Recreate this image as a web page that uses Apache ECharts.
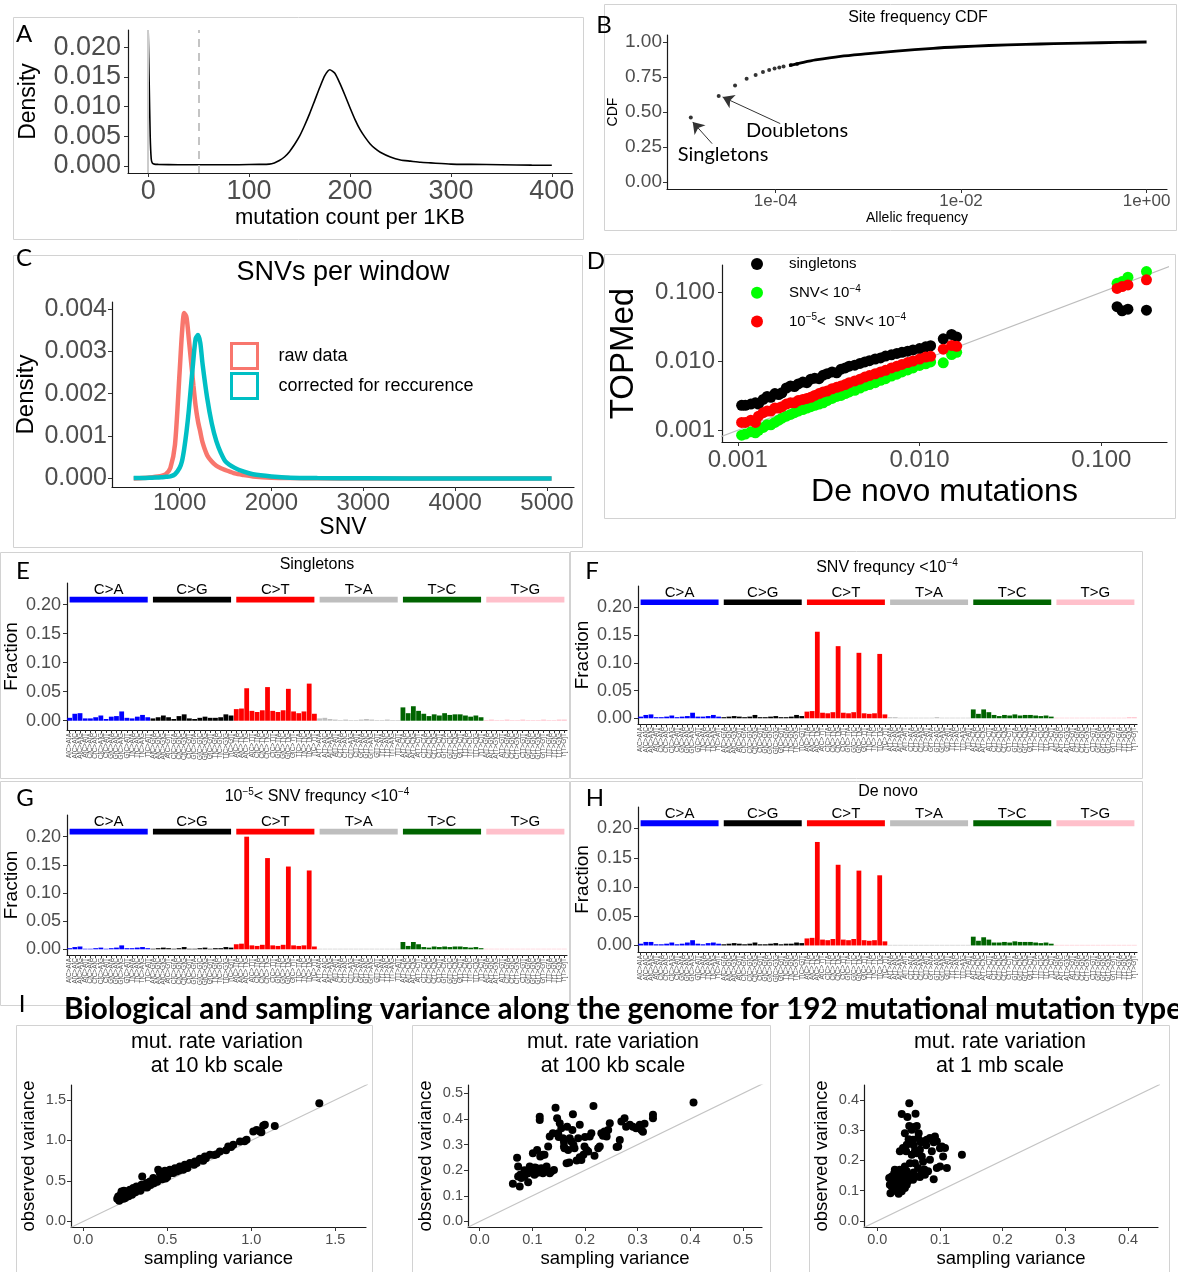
<!DOCTYPE html>
<html>
<head>
<meta charset="utf-8">
<script src="https://cdn.jsdelivr.net/npm/echarts@6/dist/echarts.min.js"></script>
<style>
  html, body { margin: 0; padding: 0; background: #fff; }
  #main { width: 1178px; height: 1272px; }
</style>
</head>
<body>
<div id="main"></div>
<script>
var FONT = "'Liberation Sans', Arial, sans-serif";
var CAL = "Lato, 'Open Sans', sans-serif";

// ---------- A: mutation count per 1KB ----------
var countX = [0, 1, 2, 3, 4, 6, 10, 30, 60, 90, 110, 120, 125, 130, 135, 140, 145, 150, 155, 160, 165, 170, 175, 180,
  185, 190, 195, 200, 205, 210, 215, 220, 225, 230, 240, 250, 260, 270, 280, 300, 320, 350, 380, 400];
var countDensity = [0.0228, 0.014, 0.005, 0.0012, 0.0005, 0.0003, 0.00025, 0.0002, 0.0002, 0.0002, 0.00025, 0.0003,
  0.0005, 0.0009, 0.0015, 0.0024, 0.0036, 0.005, 0.0068, 0.0088, 0.011, 0.0132, 0.0152, 0.0162,
  0.0156, 0.0139, 0.0119, 0.0098, 0.0078, 0.0061, 0.0048, 0.0037, 0.0029, 0.0023, 0.0015, 0.001, 0.0008, 0.0006,
  0.0005, 0.0003, 0.00025, 0.0002, 0.00012, 0.0001];

// ---------- B: site frequency CDF ----------
var sfsFreq = [1.22e-5, 2.44e-5, 3.66e-5, 4.88e-5, 6.1e-5, 7.32e-5, 8.54e-5, 9.76e-5, 1.098e-4, 1.22e-4, 1.464e-4, 1.708e-4];
var sfsCdf = [0.46, 0.614, 0.69, 0.738, 0.765, 0.785, 0.8, 0.81, 0.818, 0.825, 0.835, 0.843];
var cdfFreq = [1.4e-4, 2e-4, 2.7e-4, 5e-4, 1e-3, 2e-3, 5e-3, 1e-2, 2e-2, 5e-2, 0.1, 0.2, 0.5, 1];
var cdfValue = [0.832, 0.855, 0.872, 0.898, 0.917, 0.935, 0.955, 0.966, 0.975, 0.983, 0.988, 0.992, 0.997, 1.0];

// ---------- C: SNVs per window ----------
var snvX = [500, 600, 700, 800, 850, 900, 950, 1000, 1025, 1050, 1075, 1100, 1150, 1175, 1200, 1225, 1250,
  1300, 1350, 1400, 1450, 1500, 1600, 1700, 1800, 2000, 2200, 2500, 3000, 4000, 5050];
var snvRaw = [0, 0.00001, 0.00003, 0.00006, 0.0001, 0.00025, 0.0008, 0.0025, 0.0034, 0.0039, 0.0038, 0.0033,
  0.0022, 0.0017, 0.00135, 0.0011, 0.00085, 0.00055, 0.0004, 0.0003, 0.00024, 0.0002, 0.00012, 0.00008,
  0.00005, 0.00002, 0.00001, 0.000005, 0, 0, 0];
var snvCorrected = [0.00001, 0.00001, 0.00002, 0.00003, 0.00004, 0.00005, 0.0001, 0.00025, 0.0004, 0.0007, 0.0011,
  0.0016, 0.0028, 0.0033, 0.00338, 0.0032, 0.0027, 0.0019, 0.0013, 0.00088, 0.0006, 0.0004, 0.00025, 0.00016,
  0.0001, 0.00005, 0.00002, 0.00001, 0.000005, 0, 0];

// ---------- D: TOPMed vs de novo ----------
var dnX = [0.00105, 0.0011, 0.00118, 0.00125, 0.0013, 0.00138, 0.00145, 0.00152, 0.0016, 0.00168, 0.00175, 0.00185,
  0.00195, 0.00205, 0.00215, 0.00228, 0.0024, 0.00252, 0.00265, 0.0028, 0.00295, 0.0031, 0.0033, 0.0035, 0.0037,
  0.0039, 0.0041, 0.0044, 0.0047, 0.005, 0.0053, 0.0057, 0.0061, 0.0065, 0.007, 0.0075, 0.008, 0.0086, 0.0092,
  0.01, 0.0108, 0.0115, 0.0135, 0.015, 0.016, 0.122, 0.13, 0.14, 0.177];
var topSingletons = [0.0023, 0.0023, 0.0024, 0.0025, 0.0024, 0.0028, 0.0031, 0.003, 0.0034, 0.0033, 0.0035, 0.0041,
  0.0044, 0.0043, 0.0047, 0.005, 0.0049, 0.0055, 0.0057, 0.0056, 0.0063, 0.0066, 0.007, 0.0068, 0.0077, 0.008,
  0.0085, 0.0088, 0.0093, 0.0098, 0.0102, 0.0108, 0.0112, 0.0119, 0.0124, 0.013, 0.0135, 0.014, 0.0146, 0.0153,
  0.0162, 0.0168, 0.0212, 0.0245, 0.0226, 0.062, 0.054, 0.057, 0.055];
var topRare = [0.00085, 0.00088, 0.00095, 0.00092, 0.001, 0.0011, 0.0012, 0.0012, 0.0013, 0.0014, 0.0015, 0.0016,
  0.0017, 0.0018, 0.0019, 0.002, 0.0021, 0.0022, 0.0023, 0.0024, 0.0025, 0.0027, 0.0029, 0.0031, 0.0032, 0.0034,
  0.0036, 0.0038, 0.0041, 0.0044, 0.0046, 0.0049, 0.0053, 0.0056, 0.0061, 0.0065, 0.007, 0.0075, 0.008, 0.0087,
  0.0092, 0.0098, 0.0095, 0.0125, 0.0135, 0.135, 0.143, 0.166, 0.2];
var topMid = [0.0013, 0.0013, 0.0014, 0.0013, 0.0016, 0.0018, 0.0019, 0.0019, 0.0021, 0.0021, 0.0022, 0.0024,
  0.0025, 0.0025, 0.0027, 0.0028, 0.0029, 0.003, 0.0032, 0.0034, 0.0036, 0.0037, 0.004, 0.0042, 0.0044, 0.0046,
  0.0049, 0.0052, 0.0055, 0.0059, 0.0062, 0.0066, 0.007, 0.0074, 0.008, 0.0085, 0.009, 0.0096, 0.0101, 0.0108,
  0.0115, 0.0118, 0.015, 0.017, 0.0165, 0.114, 0.121, 0.128, 0.152];

// ---------- E-H: mutation spectra (96 trinucleotide contexts) ----------
var mutTypes = ['C>A', 'C>G', 'C>T', 'T>A', 'T>C', 'T>G'];
var mutColors = ['#0000ff', '#000000', '#ff0000', '#bebebe', '#006400', '#ffc0cb'];
var bases = ['A', 'C', 'G', 'T'];
var specSingletons = [
  0.005, 0.012, 0.013, 0.004, 0.004, 0.006, 0.009, 0.003, 0.007, 0.008, 0.016, 0.005, 0.004, 0.007, 0.010, 0.006,
  0.004, 0.006, 0.009, 0.006, 0.003, 0.008, 0.011, 0.004, 0.003, 0.005, 0.007, 0.005, 0.005, 0.006, 0.011, 0.009,
  0.020, 0.021, 0.056, 0.017, 0.015, 0.018, 0.058, 0.017, 0.015, 0.018, 0.055, 0.016, 0.013, 0.016, 0.064, 0.012,
  0.004, 0.005, 0.003, 0.002, 0.001, 0.002, 0.001, 0.001, 0.002, 0.003, 0.002, 0.001, 0.001, 0.002, 0.001, 0.001,
  0.023, 0.013, 0.025, 0.017, 0.012, 0.008, 0.011, 0.009, 0.013, 0.010, 0.011, 0.011, 0.009, 0.007, 0.009, 0.006,
  0.001, 0.002, 0.001, 0.001, 0.002, 0.001, 0.001, 0.002, 0.001, 0.001, 0.001, 0.002, 0.001, 0.001, 0.002, 0.002];
var specRare = [
  0.003, 0.006, 0.007, 0.002, 0.002, 0.003, 0.005, 0.002, 0.003, 0.004, 0.010, 0.003, 0.003, 0.004, 0.006, 0.003,
  0.002, 0.003, 0.004, 0.003, 0.002, 0.003, 0.006, 0.002, 0.002, 0.003, 0.004, 0.002, 0.002, 0.003, 0.006, 0.004,
  0.012, 0.013, 0.156, 0.010, 0.009, 0.011, 0.130, 0.010, 0.009, 0.011, 0.118, 0.009, 0.008, 0.009, 0.116, 0.007,
  0.002, 0.002, 0.001, 0.001, 0.001, 0.001, 0.001, 0.001, 0.001, 0.002, 0.001, 0.001, 0.001, 0.001, 0.001, 0.001,
  0.016, 0.008, 0.016, 0.011, 0.006, 0.004, 0.006, 0.005, 0.007, 0.005, 0.006, 0.006, 0.005, 0.004, 0.005, 0.003,
  0.001, 0.001, 0.001, 0.001, 0.001, 0.001, 0.001, 0.001, 0.001, 0.001, 0.001, 0.001, 0.001, 0.001, 0.002, 0.002];
var specMid = [
  0.002, 0.004, 0.005, 0.001, 0.001, 0.002, 0.003, 0.001, 0.002, 0.003, 0.007, 0.002, 0.002, 0.003, 0.004, 0.002,
  0.001, 0.002, 0.003, 0.002, 0.001, 0.002, 0.004, 0.001, 0.001, 0.002, 0.003, 0.001, 0.002, 0.002, 0.004, 0.003,
  0.009, 0.010, 0.200, 0.007, 0.006, 0.008, 0.162, 0.007, 0.006, 0.008, 0.147, 0.007, 0.006, 0.007, 0.140, 0.005,
  0.001, 0.001, 0.001, 0.001, 0.001, 0.001, 0.001, 0.001, 0.001, 0.001, 0.001, 0.001, 0.001, 0.001, 0.001, 0.001,
  0.013, 0.006, 0.013, 0.009, 0.004, 0.003, 0.005, 0.004, 0.005, 0.004, 0.005, 0.005, 0.004, 0.003, 0.004, 0.002,
  0.001, 0.001, 0.001, 0.001, 0.001, 0.001, 0.001, 0.001, 0.001, 0.001, 0.001, 0.001, 0.001, 0.001, 0.001, 0.001];
var specDeNovo = [
  0.003, 0.006, 0.006, 0.002, 0.002, 0.003, 0.005, 0.002, 0.003, 0.005, 0.009, 0.003, 0.002, 0.004, 0.005, 0.003,
  0.002, 0.003, 0.004, 0.003, 0.002, 0.003, 0.005, 0.002, 0.002, 0.003, 0.004, 0.002, 0.003, 0.003, 0.005, 0.004,
  0.012, 0.013, 0.177, 0.010, 0.009, 0.011, 0.138, 0.010, 0.009, 0.011, 0.128, 0.009, 0.008, 0.009, 0.120, 0.007,
  0.001, 0.001, 0.001, 0.001, 0.001, 0.001, 0.001, 0.001, 0.001, 0.001, 0.001, 0.001, 0.001, 0.001, 0.001, 0.001,
  0.015, 0.008, 0.014, 0.010, 0.005, 0.005, 0.006, 0.005, 0.007, 0.006, 0.006, 0.006, 0.005, 0.004, 0.005, 0.003,
  0.001, 0.001, 0.001, 0.001, 0.001, 0.001, 0.001, 0.001, 0.001, 0.001, 0.001, 0.001, 0.001, 0.001, 0.001, 0.001];

// ---------- I: observed vs sampling variance ----------
var var10kb = [[1.405, 1.46], [1.071, 1.181], [1.081, 1.193], [1.032, 1.13], [1.012, 1.11], [1.052, 1.11],
  [0.972, 1.008], [0.933, 0.988], [0.893, 0.947], [0.863, 0.926], [0.813, 0.864], [0.794, 0.831], [0.754, 0.823],
  [0.724, 0.802], [0.714, 0.749], [0.694, 0.774], [0.675, 0.72], [0.665, 0.741], [0.635, 0.72], [0.615, 0.687],
  [0.605, 0.7], [0.595, 0.638], [0.585, 0.658], [0.575, 0.679], [0.556, 0.617], [0.546, 0.658], [0.536, 0.597],
  [0.516, 0.638], [0.516, 0.597], [0.496, 0.576], [0.486, 0.626], [0.476, 0.584], [0.466, 0.556], [0.456, 0.597],
  [0.446, 0.638], [0.437, 0.514], [0.427, 0.494], [0.417, 0.535], [0.407, 0.473], [0.397, 0.494], [0.387, 0.453],
  [0.377, 0.473], [0.357, 0.42], [0.351, 0.556], [0.347, 0.453], [0.327, 0.391], [0.317, 0.432], [0.308, 0.37],
  [0.298, 0.412], [0.288, 0.35], [0.278, 0.391], [0.268, 0.329], [0.258, 0.37], [0.248, 0.309], [0.242, 0.379],
  [0.238, 0.35], [0.228, 0.288], [0.228, 0.37], [0.222, 0.329], [0.214, 0.255], [0.208, 0.309], [0.202, 0.28],
  [0.33, 0.4], [0.36, 0.43], [0.42, 0.47], [0.5, 0.55], [0.53, 0.6], [0.57, 0.63], [0.62, 0.66], [0.66, 0.7],
  [0.73, 0.78], [0.78, 0.82], [0.85, 0.88], [0.88, 0.92], [0.96, 0.99], [1.06, 1.1], [1.14, 1.18], [0.25, 0.29],
  [0.27, 0.31], [0.29, 0.33], [0.31, 0.36], [0.34, 0.38], [0.38, 0.42], [0.4, 0.45], [0.44, 0.49], [0.47, 0.52],
  [0.49, 0.53], [0.22, 0.27], [0.24, 0.28]];
var var100kb = [[0.063, 0.147], [0.076, 0.136], [0.071, 0.249], [0.073, 0.214], [0.077, 0.182], [0.085, 0.175],
  [0.092, 0.153], [0.095, 0.214], [0.098, 0.195], [0.101, 0.266], [0.104, 0.182], [0.108, 0.208], [0.109, 0.279],
  [0.114, 0.409], [0.114, 0.396], [0.115, 0.253], [0.117, 0.208], [0.12, 0.188], [0.123, 0.26], [0.127, 0.214],
  [0.13, 0.292], [0.133, 0.331], [0.136, 0.195], [0.139, 0.344], [0.141, 0.201], [0.144, 0.444], [0.147, 0.403],
  [0.149, 0.344], [0.152, 0.383], [0.155, 0.364], [0.158, 0.325], [0.16, 0.292], [0.161, 0.286], [0.165, 0.227],
  [0.166, 0.37], [0.168, 0.279], [0.171, 0.325], [0.174, 0.312], [0.176, 0.357], [0.177, 0.418], [0.178, 0.299],
  [0.18, 0.286], [0.184, 0.238], [0.187, 0.325], [0.19, 0.377], [0.193, 0.24], [0.197, 0.26], [0.199, 0.292],
  [0.203, 0.279], [0.206, 0.273], [0.209, 0.331], [0.212, 0.344], [0.216, 0.451], [0.218, 0.256], [0.225, 0.286],
  [0.228, 0.292], [0.231, 0.344], [0.234, 0.334], [0.237, 0.351], [0.241, 0.331], [0.244, 0.357], [0.247, 0.383],
  [0.263, 0.292], [0.266, 0.318], [0.269, 0.39], [0.275, 0.403], [0.278, 0.37], [0.285, 0.377], [0.291, 0.37],
  [0.297, 0.364], [0.304, 0.377], [0.307, 0.357], [0.313, 0.381], [0.329, 0.416], [0.329, 0.403], [0.406, 0.464],
  [0.073, 0.175], [0.079, 0.169], [0.092, 0.188], [0.12, 0.26], [0.133, 0.188], [0.1, 0.2], [0.11, 0.19],
  [0.125, 0.2], [0.16, 0.31], [0.17, 0.23], [0.15, 0.33], [0.19, 0.25], [0.24, 0.34], [0.26, 0.29], [0.31, 0.35],
  [0.2, 0.33], [0.085, 0.2], [0.105, 0.21]];
var var1mb = [[0.051, 0.389], [0.039, 0.353], [0.048, 0.343], [0.061, 0.354], [0.051, 0.314], [0.063, 0.314],
  [0.055, 0.301], [0.044, 0.29], [0.041, 0.241], [0.036, 0.23], [0.047, 0.252], [0.057, 0.268], [0.065, 0.274],
  [0.073, 0.263], [0.079, 0.268], [0.084, 0.274], [0.092, 0.279], [0.095, 0.263], [0.103, 0.246], [0.108, 0.241],
  [0.105, 0.213], [0.111, 0.175], [0.1, 0.18], [0.095, 0.175], [0.09, 0.138], [0.135, 0.219], [0.068, 0.235],
  [0.071, 0.213], [0.063, 0.224], [0.055, 0.219], [0.06, 0.191], [0.065, 0.175], [0.071, 0.158], [0.076, 0.153],
  [0.081, 0.164], [0.063, 0.147], [0.057, 0.136], [0.052, 0.147], [0.047, 0.164], [0.044, 0.18], [0.039, 0.164],
  [0.021, 0.092], [0.023, 0.114], [0.026, 0.136], [0.027, 0.158], [0.03, 0.103], [0.031, 0.125], [0.034, 0.147],
  [0.035, 0.109], [0.037, 0.131], [0.04, 0.153], [0.041, 0.114], [0.044, 0.136], [0.028, 0.169], [0.036, 0.169],
  [0.023, 0.147], [0.031, 0.098], [0.026, 0.103], [0.047, 0.12], [0.02, 0.12], [0.019, 0.142], [0.039, 0.098],
  [0.044, 0.109], [0.049, 0.131], [0.034, 0.09], [0.073, 0.196], [0.084, 0.202], [0.087, 0.23], [0.052, 0.191],
  [0.058, 0.25], [0.066, 0.29], [0.059, 0.31], [0.069, 0.26], [0.078, 0.25], [0.09, 0.26], [0.1, 0.24],
  [0.06, 0.23], [0.05, 0.27], [0.046, 0.23], [0.075, 0.17], [0.068, 0.145], [0.058, 0.16], [0.029, 0.12],
  [0.033, 0.13], [0.025, 0.125], [0.038, 0.12], [0.042, 0.15]];

// ---------- building blocks ----------
var contexts = [];
mutTypes.forEach(function (m) {
  bases.forEach(function (l) {
    bases.forEach(function (r) { contexts.push(l + '[' + m + ']' + r); });
  });
});

function pairs(xs, ys) { return xs.map(function (x, i) { return [x, ys[i]]; }); }

var grids = [], xAxes = [], yAxes = [], series = [], graphics = [];

function makeAxis(p) {
  var ax = {
    type: p.type || 'value', min: p.min, max: p.max,
    name: p.name || '', nameLocation: 'middle', nameGap: p.nameGap,
    nameTextStyle: {color: '#000', fontSize: p.nameSize, fontFamily: FONT},
    axisLine: {show: true, onZero: false, lineStyle: {color: '#1a1a1a', width: 1.2}},
    axisTick: {show: true, length: 4, lineStyle: {color: '#333'}, customValues: p.ticks},
    axisLabel: {color: '#4d4d4d', fontSize: p.size, fontFamily: FONT, margin: p.margin,
      customValues: p.ticks, formatter: p.fmt || function (v) { return String(v); }},
    splitLine: {show: false}
  };
  if (p.type === 'log') ax.logBase = 10;
  return ax;
}

function addPanel(rect, xa, ya) {
  var i = grids.length;
  grids.push({left: rect[0], top: rect[1], width: rect[2], height: rect[3], containLabel: false, outerBoundsMode: 'none'});
  xa.gridIndex = i; ya.gridIndex = i;
  xAxes.push(xa); yAxes.push(ya);
  return i;
}

function txt(x, y, text, size, o) {
  o = o || {};
  graphics.push({
    type: 'text', x: x, y: y, silent: true, z: 100,
    style: {
      text: text, fill: '#000', fontSize: size, fontFamily: o.font || FONT, fontWeight: o.weight || 'normal',
      align: o.align || 'center', verticalAlign: 'middle', lineHeight: o.lineHeight, rich: o.rich
    }
  });
}

function box(x, y, w, h) {
  graphics.push({type: 'rect', silent: true, z: 1, shape: {x: x + 0.5, y: y + 0.5, width: w, height: h},
    style: {fill: 'none', stroke: '#d2d2d2', lineWidth: 1}});
}

var fix = function (d) { return function (v) { return v.toFixed(d); }; };
var SUP = {sup: {fontSize: 10, verticalAlign: 'top', fontFamily: FONT}};

// ---------- panel A ----------
var gA = addPanel([128, 30, 444, 143],
  makeAxis({min: -20, max: 420, ticks: [0, 100, 200, 300, 400], size: 27, margin: 5,
    name: 'mutation count per 1KB', nameSize: 22, nameGap: 34}),
  makeAxis({min: -0.0012, max: 0.0229, ticks: [0, 0.005, 0.01, 0.015, 0.02], fmt: fix(3), size: 27, margin: 7,
    name: 'Density', nameSize: 23, nameGap: 88}));
series.push({
  type: 'line', xAxisIndex: gA, yAxisIndex: gA, data: pairs(countX, countDensity), showSymbol: false,
  smooth: 0.2, lineStyle: {color: '#000', width: 1.6}, z: 3,
  markLine: {silent: true, symbol: 'none', label: {show: false}, data: [
    {xAxis: 0, lineStyle: {color: '#cccccc', width: 2, type: 'solid'}},
    {xAxis: 50, lineStyle: {color: '#c4c4c4', width: 2, type: [8, 6]}}
  ]}
});

// ---------- panel B ----------
var gB = addPanel([667, 35, 500, 154],
  makeAxis({type: 'log', min: 6.76e-6, max: 1.66, ticks: [1e-4, 1e-2, 1], size: 17, margin: 4,
    fmt: function (v) {
      var e = Math.round(Math.log10(v));
      return '1e' + (e < 0 ? '-' : '+') + (Math.abs(e) < 10 ? '0' : '') + Math.abs(e);
    },
    name: 'Allelic frequency', nameSize: 14, nameGap: 22}),
  makeAxis({min: -0.05, max: 1.05, ticks: [0, 0.25, 0.5, 0.75, 1], fmt: fix(2), size: 19, margin: 5,
    name: 'CDF', nameSize: 14, nameGap: 47}));
series.push({
  type: 'line', xAxisIndex: gB, yAxisIndex: gB, data: pairs(cdfFreq, cdfValue), showSymbol: false,
  smooth: 0.3, lineStyle: {color: '#000', width: 2.8}, z: 3,
  markLine: {silent: true, symbol: 'none', label: {show: false},
    data: [{xAxis: 1e-4, lineStyle: {color: '#bdbdbd', width: 3, type: [3, 4]}}]}
});
series.push({
  type: 'scatter', xAxisIndex: gB, yAxisIndex: gB, data: pairs(sfsFreq, sfsCdf), symbolSize: 4,
  itemStyle: {color: '#000'}, z: 4,
  markLine: {silent: true, symbol: ['none', 'arrow'], symbolSize: 11, label: {show: false},
    lineStyle: {color: '#333', width: 1, type: 'solid'},
    data: [
      [{coord: [2.07e-5, 0.274]}, {coord: [1.28e-5, 0.429]}],
      [{coord: [1.125e-4, 0.417]}, {coord: [2.69e-5, 0.607]}]
    ]}
});

// ---------- panel C ----------
var gC = addPanel([112, 302, 462, 185],
  makeAxis({min: 264, max: 5294, ticks: [1000, 2000, 3000, 4000, 5000], size: 24, margin: 4,
    name: 'SNV', nameSize: 23, nameGap: 28}),
  makeAxis({min: -0.0002, max: 0.00416, ticks: [0, 0.001, 0.002, 0.003, 0.004], fmt: fix(3), size: 25, margin: 5,
    name: 'Density', nameSize: 24, nameGap: 74}));
series.push({
  name: 'raw data', type: 'line', xAxisIndex: gC, yAxisIndex: gC, data: pairs(snvX, snvRaw), showSymbol: false,
  smooth: 0.25, lineStyle: {color: '#F8766D', width: 4.5}, itemStyle: {color: '#F8766D'}, z: 3
});
series.push({
  name: 'corrected for reccurence', type: 'line', xAxisIndex: gC, yAxisIndex: gC, data: pairs(snvX, snvCorrected),
  showSymbol: false, smooth: 0.25, lineStyle: {color: '#00BFC4', width: 4.5}, itemStyle: {color: '#00BFC4'}, z: 4
});

// ---------- panel D ----------
var gD = addPanel([722, 265, 445, 177],
  makeAxis({type: 'log', min: 0.000819, max: 0.2296, ticks: [0.001, 0.01, 0.1], fmt: fix(3), size: 24, margin: 6,
    name: 'De novo mutations', nameSize: 32, nameGap: 34}),
  makeAxis({type: 'log', min: 0.000676, max: 0.249, ticks: [0.001, 0.01, 0.1], fmt: fix(3), size: 24, margin: 7,
    name: 'TOPMed', nameSize: 33, nameGap: 82}));
series.push({
  type: 'line', xAxisIndex: gD, yAxisIndex: gD, data: [[0.0005, 0.0005], [0.5, 0.5]], showSymbol: false,
  silent: true, lineStyle: {color: '#bdbdbd', width: 1.3}, z: 2
});
[['singletons', topSingletons, '#000000'], ['SNV< 10^-4', topRare, '#00ff00'],
  ['10^-5< SNV< 10^-4', topMid, '#ff0000']].forEach(function (s, k) {
  series.push({
    name: s[0], type: 'scatter', xAxisIndex: gD, yAxisIndex: gD, data: pairs(dnX, s[1]), symbolSize: 11,
    itemStyle: {color: s[2], opacity: 1}, z: 3 + k
  });
});
var dLegendText = {
  'singletons': 'singletons',
  'SNV< 10^-4': 'SNV< 10{sup|−4}',
  '10^-5< SNV< 10^-4': '10{sup|−5}<  SNV< 10{sup|−4}'
};

// ---------- panels E-H ----------
function addSpectrum(rect, yMin, yMax, values) {
  var g = addPanel(rect, {
    type: 'category', data: contexts,
    axisLine: {show: true, onZero: false, lineStyle: {color: '#1a1a1a', width: 1.2}},
    axisTick: {show: true, interval: 0, alignWithLabel: true, length: 3, lineStyle: {color: '#333'}},
    axisLabel: {interval: 0, rotate: 90, fontSize: 6.5, color: '#555', margin: 3, fontFamily: FONT},
    splitLine: {show: false}
  }, makeAxis({min: yMin, max: yMax, ticks: [0, 0.05, 0.1, 0.15, 0.2], fmt: fix(2), size: 18, margin: 6,
    name: 'Fraction', nameSize: 19, nameGap: 46}));
  series.push({
    type: 'bar', xAxisIndex: g, yAxisIndex: g, barCategoryGap: '8%',
    data: values.map(function (v, i) {
      return {value: v, itemStyle: {color: mutColors[Math.floor(i / 16)]}};
    }),
    markArea: {
      silent: true,
      label: {show: true, position: 'top', distance: -1, fontSize: 15, color: '#000', fontFamily: FONT},
      data: mutTypes.map(function (m, k) {
        return [{name: m, xAxis: 16 * k, yAxis: 0.204, itemStyle: {color: mutColors[k], opacity: 1}},
          {xAxis: 16 * k + 15, yAxis: 0.214}];
      })
    }
  });
}
addSpectrum([67, 583, 500, 147], -0.016, 0.2375, specSingletons);
addSpectrum([638, 586, 499, 138], -0.0103, 0.2384, specRare);
addSpectrum([67, 815, 500, 140], -0.0101, 0.2385, specMid);
addSpectrum([638, 807, 499, 145], -0.0112, 0.2368, specDeNovo);

// ---------- panel I ----------
function addVariance(rect, xr, yr, ticks, pts) {
  var g = addPanel(rect,
    makeAxis({min: xr[0], max: xr[1], ticks: ticks, fmt: fix(1), size: 14.5, margin: 5,
      name: 'sampling variance', nameSize: 18.5, nameGap: 22}),
    makeAxis({min: yr[0], max: yr[1], ticks: ticks, fmt: fix(1), size: 14.5, margin: 5,
      name: 'observed variance', nameSize: 18.5, nameGap: 33}));
  series.push({
    type: 'line', xAxisIndex: g, yAxisIndex: g, data: [[-1, -1], [3, 3]], showSymbol: false, silent: true,
    lineStyle: {color: '#c4c4c4', width: 1.2}, z: 2
  });
  series.push({
    type: 'scatter', xAxisIndex: g, yAxisIndex: g, data: pts, symbolSize: 8, itemStyle: {color: '#000', opacity: 1}, z: 3
  });
}
addVariance([71, 1085, 295, 142], [-0.073, 1.683], [-0.069, 1.685], [0, 0.5, 1, 1.5], var10kb);
addVariance([468, 1085, 294, 142], [-0.0222, 0.536], [-0.0218, 0.5325], [0, 0.1, 0.2, 0.3, 0.4, 0.5], var100kb);
addVariance([864, 1085, 294, 142], [-0.0212, 0.4478], [-0.0198, 0.449], [0, 0.1, 0.2, 0.3, 0.4], var1mb);

// ---------- frames, letters, titles ----------
box(13, 17, 570, 222); box(604, 4, 572, 226); box(13, 255, 569, 292); box(604, 254, 571, 264);
box(0, 552, 569, 226); box(570, 551, 572, 227); box(0, 781, 569, 224); box(570, 781, 572, 224);
box(16, 1025, 356, 260); box(412, 1025, 358, 260); box(809, 1025, 360, 260);

[['A', 24, 34], ['B', 604, 25], ['C', 24, 258], ['D', 596, 261], ['E', 23, 571], ['F', 592, 571],
  ['G', 25, 798], ['H', 595, 798], ['I', 22, 1004]].forEach(function (l) {
  txt(l[1], l[2], l[0], 24, {font: CAL});
});

txt(918, 18, 'Site frequency CDF', 16);
txt(723, 155, 'Singletons', 20, {font: CAL});
txt(797, 131, 'Doubletons', 20, {font: CAL});
txt(343, 273, 'SNVs per window', 27);
txt(317, 565, 'Singletons', 16);
txt(887, 568, 'SNV frequncy <10{sup|−4}', 16, {rich: SUP, lineHeight: 20});
txt(317, 797, '10{sup|−5}< SNV frequncy <10{sup|−4}', 16, {rich: SUP, lineHeight: 20});
txt(888, 792, 'De novo', 16);
txt(64, 1009, 'Biological and sampling variance along the genome for 192 mutational mutation types', 29.7,
  {font: CAL, weight: 'bold', align: 'left'});
txt(217, 1054, 'mut. rate variation\nat 10 kb scale', 21.5, {lineHeight: 24});
txt(613, 1054, 'mut. rate variation\nat 100 kb scale', 21.5, {lineHeight: 24});
txt(1000, 1054, 'mut. rate variation\nat 1 mb scale', 21.5, {lineHeight: 24});

var chart = echarts.init(document.getElementById('main'));
chart.setOption({
  animation: false,
  backgroundColor: '#fff',
  grid: grids,
  xAxis: xAxes,
  yAxis: yAxes,
  series: series,
  legend: [{
    left: 230, top: 342, padding: 0, orient: 'vertical', icon: 'rect', selectedMode: false,
    itemWidth: 26, itemHeight: 25, itemGap: 2,
    textStyle: {fontSize: 18, color: '#000', fontFamily: FONT, padding: [0, 0, 0, 16]},
    data: [
      {name: 'raw data', itemStyle: {color: 'rgba(0,0,0,0)', borderColor: '#F8766D', borderWidth: 3}},
      {name: 'corrected for reccurence', itemStyle: {color: 'rgba(0,0,0,0)', borderColor: '#00BFC4', borderWidth: 3}}
    ]
  }, {
    left: 751, top: 255, padding: 0, orient: 'vertical', icon: 'circle', selectedMode: false,
    itemWidth: 12, itemHeight: 12, itemGap: 10.8,
    formatter: function (n) { return dLegendText[n]; },
    textStyle: {fontSize: 15, lineHeight: 18, color: '#000', fontFamily: FONT, padding: [0, 0, 0, 21],
      rich: {sup: {fontSize: 10, verticalAlign: 'top', fontFamily: FONT, color: '#000'}}},
    data: ['singletons', 'SNV< 10^-4', '10^-5< SNV< 10^-4']
  }],
  graphic: {elements: graphics}
});
</script>
</body>
</html>
